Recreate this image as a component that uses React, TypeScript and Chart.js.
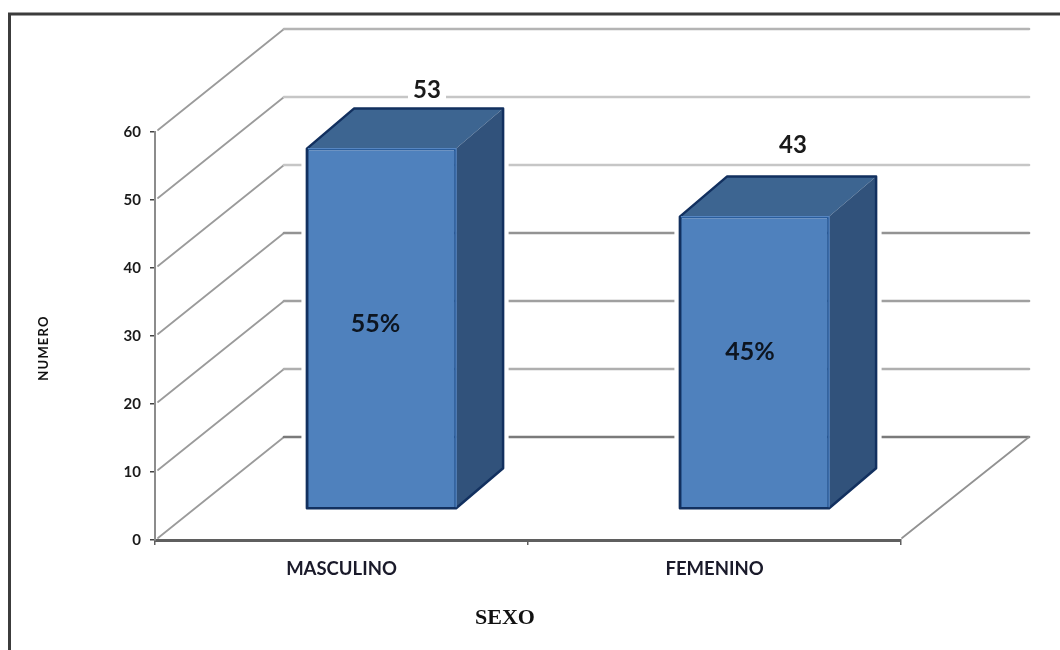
import React, { useEffect, useRef } from "react";
import { Chart, registerables } from "chart.js";

Chart.register(...registerables);

// Chart values
const categories = ["MASCULINO", "FEMENINO"];
const counts = [53, 43];
const shares = ["55%", "45%"];
const yTickValues = [0, 10, 20, 30, 40, 50, 60];

// Colours of the back-wall rules, from value 0 up to value 60
const wallRuleColors = ["#7a7a7a", "#afafaf", "#a0a0a0", "#939393", "#c6c6c6", "#c6c6c6", "#b4b4b4"];

// Projection of the floor and of the bars
const WALL_DX = 129;
const WALL_DY = 103;
const WALL_RIGHT = 1029;
const BAR_SHIFT_X = 40;
const BAR_SHIFT_Y = 31;
const BAR_DX = 47;
const BAR_DY = 40;

// Where each count and share sits relative to its bar
const countOffsets = [
  { x: 45.5, y: -58 },
  { x: 38.5, y: -71 },
];
const shareOffsets = [
  { x: -6, y: -4 },
  { x: -4.5, y: -10 },
];

const LATO = "Lato, 'Noto Sans', sans-serif";

function barBox(el: any) {
  const p = el.getProps(["x", "y", "base", "width"], true);
  const left = p.x - p.width / 2 + BAR_SHIFT_X;
  const right = p.x + p.width / 2 + BAR_SHIFT_X;
  return { left, right, top: p.y - BAR_SHIFT_Y, bottom: p.base - BAR_SHIFT_Y };
}

function poly(ctx: CanvasRenderingContext2D, pts: number[][]) {
  ctx.beginPath();
  pts.forEach(([x, y], i) => (i ? ctx.lineTo(x, y) : ctx.moveTo(x, y)));
  ctx.closePath();
}

function silhouette(b: ReturnType<typeof barBox>) {
  return [
    [b.left, b.bottom],
    [b.left, b.top],
    [b.left + BAR_DX, b.top - BAR_DY],
    [b.right + BAR_DX, b.top - BAR_DY],
    [b.right + BAR_DX, b.bottom - BAR_DY],
    [b.right, b.bottom],
  ];
}

const box3d = {
  id: "box3d",
  beforeDraw(chart: any) {
    // Outer frame of the figure, running off the right and lower edges
    const { ctx } = chart;
    ctx.save();
    ctx.strokeStyle = "#3c3c3c";
    ctx.lineWidth = 3;
    ctx.beginPath();
    ctx.moveTo(9.5, 660);
    ctx.lineTo(9.5, 14);
    ctx.lineTo(1070, 14);
    ctx.stroke();
    ctx.restore();
  },
  beforeDatasetsDraw(chart: any) {
    const { ctx, scales, chartArea } = chart;
    const yScale = scales.y;
    ctx.save();
    ctx.lineCap = "round";
    // Side wall diagonals and back wall rules
    yTickValues.forEach((v, i) => {
      const y = yScale.getPixelForValue(v);
      ctx.strokeStyle = "#9b9b9b";
      ctx.lineWidth = 1.8;
      ctx.beginPath();
      ctx.moveTo(chartArea.left + 3, y - 2);
      ctx.lineTo(chartArea.left + WALL_DX, y - WALL_DY);
      ctx.stroke();
      ctx.strokeStyle = wallRuleColors[i];
      ctx.lineWidth = 2.6;
      ctx.beginPath();
      ctx.moveTo(chartArea.left + WALL_DX, y - WALL_DY);
      ctx.lineTo(WALL_RIGHT, y - WALL_DY);
      ctx.stroke();
    });
    // Floor edge on the right
    const y0 = yScale.getPixelForValue(0);
    ctx.strokeStyle = "#929292";
    ctx.lineWidth = 1.8;
    ctx.beginPath();
    ctx.moveTo(chartArea.right + 1, y0 - 2);
    ctx.lineTo(chartArea.right + WALL_DX - 1, y0 - WALL_DY);
    ctx.stroke();
    // White halo that separates the bars from the rules behind them
    const meta = chart.getDatasetMeta(0);
    ctx.strokeStyle = "#ffffff";
    ctx.lineWidth = 11;
    ctx.lineJoin = "round";
    meta.data.forEach((el: any) => {
      poly(ctx, silhouette(barBox(el)));
      ctx.stroke();
    });
    ctx.restore();
    // Front faces are drawn by the bar elements, moved onto the floor
    ctx.save();
    ctx.translate(BAR_SHIFT_X, -BAR_SHIFT_Y);
  },
  afterDatasetsDraw(chart: any) {
    const { ctx } = chart;
    ctx.restore();
    const meta = chart.getDatasetMeta(0);
    ctx.save();
    ctx.lineJoin = "round";
    meta.data.forEach((el: any, i: number) => {
      const b = barBox(el);
      // Top face
      poly(ctx, [
        [b.left, b.top],
        [b.left + BAR_DX, b.top - BAR_DY],
        [b.right + BAR_DX, b.top - BAR_DY],
        [b.right, b.top],
      ]);
      ctx.fillStyle = "#3d6591";
      ctx.fill();
      // Side face
      poly(ctx, [
        [b.right, b.top],
        [b.right + BAR_DX, b.top - BAR_DY],
        [b.right + BAR_DX, b.bottom - BAR_DY],
        [b.right, b.bottom],
      ]);
      ctx.fillStyle = "#31527b";
      ctx.fill();
      // Outline of the whole box
      poly(ctx, silhouette(b));
      ctx.strokeStyle = "#12305f";
      ctx.lineWidth = 2.5;
      ctx.stroke();
      // Light edges where the faces meet
      ctx.strokeStyle = "#5686c2";
      ctx.lineWidth = 1.2;
      ctx.beginPath();
      ctx.moveTo(b.left + 1, b.top);
      ctx.lineTo(b.right, b.top);
      ctx.lineTo(b.right, b.bottom - 1);
      ctx.stroke();

      // Count above the bar, on a white patch
      const cx = (b.left + b.right) / 2;
      ctx.textAlign = "center";
      ctx.textBaseline = "middle";
      const countX = cx + countOffsets[i].x;
      const countY = b.top + countOffsets[i].y;
      ctx.fillStyle = "#ffffff";
      ctx.fillRect(countX - 19, countY - 13, 38, 26);
      ctx.fillStyle = "#1a1a1a";
      ctx.font = `bold 24px ${LATO}`;
      ctx.fillText(String(counts[i]), countX, countY);

      // Share inside the front face
      ctx.font = `bold 25px ${LATO}`;
      ctx.fillStyle = "#0d1520";
      ctx.fillText(
        shares[i],
        cx + shareOffsets[i].x,
        (b.top + b.bottom) / 2 + shareOffsets[i].y
      );
    });

    // Axis titles
    ctx.fillStyle = "#111111";
    ctx.font = "bold 22px 'Liberation Serif', serif";
    ctx.fillText("SEXO", 505, 618);
    ctx.save();
    ctx.translate(44, 348);
    ctx.rotate(-Math.PI / 2);
    ctx.font = `bold 13px ${LATO}`;
    (ctx as any).letterSpacing = "1.2px";
    ctx.fillText("NUMERO", 0, 0);
    ctx.restore();
    ctx.restore();
  },
};

export default function App() {
  const ref = useRef<HTMLCanvasElement>(null);
  useEffect(() => {
    const chart = new Chart(ref.current!, {
      type: "bar",
      data: {
        labels: categories,
        datasets: [
          {
            data: counts,
            backgroundColor: "#4f81bd",
            borderColor: "#1c4f8f",
            borderWidth: 2,
            barPercentage: 0.4,
            categoryPercentage: 1,
            clip: false,
          } as any,
        ],
      },
      options: {
        responsive: false,
        animation: false,
        layout: { padding: { left: 0, right: 159, top: 132, bottom: 0 } },
        plugins: { legend: { display: false }, tooltip: { enabled: false } },
        scales: {
          x: {
            afterFit(scale: any) {
              scale.height = 110;
            },
            border: { color: "#5f5f5f", width: 3 },
            grid: { drawOnChartArea: false, color: "#5f5f5f", tickLength: 5, lineWidth: 1.5 },
            ticks: {
              color: "#1a1a2a",
              padding: 13,
              font: { family: LATO, size: 18.5, weight: "bold" },
            },
          },
          y: {
            min: 0,
            max: 60,
            afterFit(scale: any) {
              scale.width = 155;
            },
            border: { color: "#8c8c8c", width: 2 },
            grid: { drawOnChartArea: false, color: "#444444", tickLength: 5, lineWidth: 1.5 },
            afterBuildTicks(scale: any) {
              scale.ticks = yTickValues.map((value) => ({ value }));
            },
            ticks: {
              color: "#1a1a1a",
              padding: 9,
              font: { family: LATO, size: 15, weight: "bold" },
            },
          },
        },
      },
      plugins: [box3d as any],
    });
    return () => chart.destroy();
  }, []);
  return (
    <canvas
      ref={ref}
      width={1060}
      height={650}
      style={{ position: "fixed", left: 0, top: 0, width: 1060, height: 650 }}
    />
  );
}
